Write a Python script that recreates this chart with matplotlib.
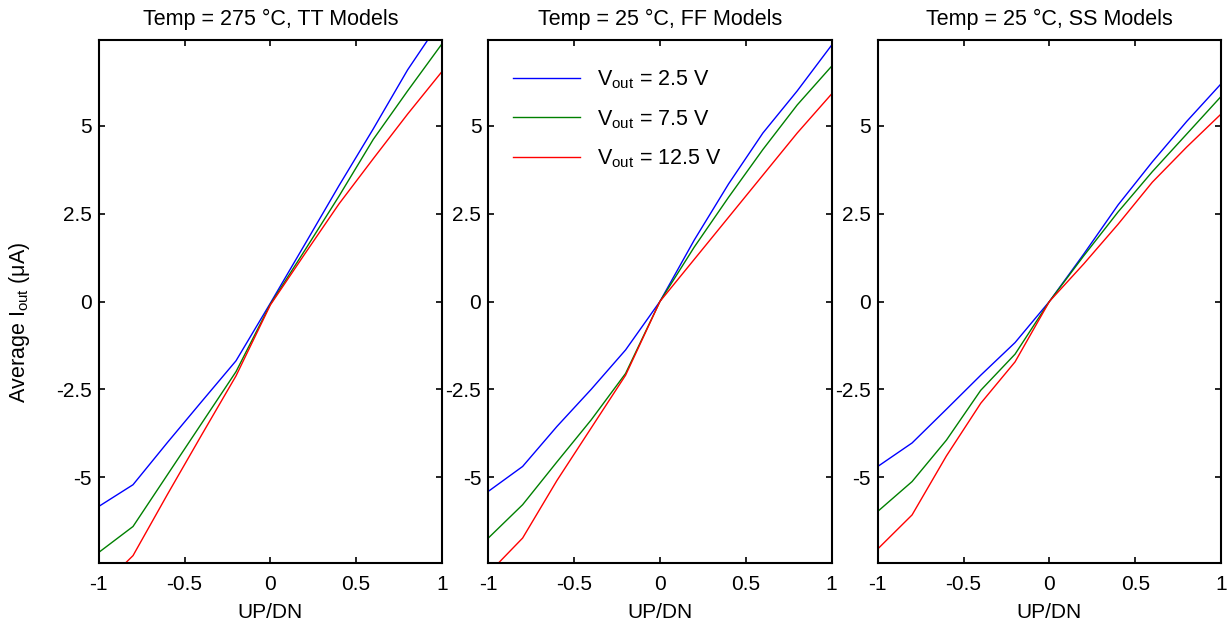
import matplotlib
matplotlib.use('Agg')
import matplotlib.pyplot as plt
from matplotlib.ticker import FormatStrFormatter

plt.rcParams['font.family'] = ['Liberation Sans', 'DejaVu Sans']
plt.rcParams['mathtext.default'] = 'regular'
plt.rcParams['axes.unicode_minus'] = False

# UP/DN control value
updn = [-1, -0.8, -0.6, -0.4, -0.2, 0, 0.2, 0.4, 0.6, 0.8, 1]

titles = ['Temp = 275 \u00b0C, TT Models',
          'Temp = 25 \u00b0C, FF Models',
          'Temp = 25 \u00b0C, SS Models']
labels = ['V$_{out}$ = 2.5 V', 'V$_{out}$ = 7.5 V', 'V$_{out}$ = 12.5 V']
colors = ['#0000ff', '#008000', '#ff0000']

# average output current (uA), one list per Vout
tt_2v5 = [-5.84, -5.22, -4.02, -2.85, -1.69, -0.05, 1.62, 3.30, 4.92, 6.60, 8.05]
tt_7v5 = [-7.15, -6.41, -4.94, -3.47, -2.00, -0.08, 1.45, 3.00, 4.62, 6.00, 7.34]
tt_12v5 = [-8.20, -7.24, -5.50, -3.80, -2.12, -0.10, 1.35, 2.78, 4.07, 5.34, 6.55]

ff_2v5 = [-5.41, -4.70, -3.56, -2.50, -1.38, 0.0, 1.75, 3.35, 4.80, 6.00, 7.30]
ff_7v5 = [-6.74, -5.79, -4.57, -3.37, -2.05, 0.0, 1.55, 2.97, 4.33, 5.60, 6.70]
ff_12v5 = [-7.75, -6.74, -5.10, -3.60, -2.10, 0.0, 1.20, 2.40, 3.60, 4.80, 5.91]

ss_2v5 = [-4.70, -4.03, -3.07, -2.10, -1.17, 0.0, 1.35, 2.75, 3.98, 5.13, 6.20]
ss_7v5 = [-5.98, -5.13, -3.95, -2.53, -1.50, 0.0, 1.30, 2.55, 3.70, 4.77, 5.84]
ss_12v5 = [-7.05, -6.08, -4.40, -2.90, -1.72, 0.0, 1.07, 2.20, 3.40, 4.40, 5.34]

panels = [[tt_2v5, tt_7v5, tt_12v5],
          [ff_2v5, ff_7v5, ff_12v5],
          [ss_2v5, ss_7v5, ss_12v5]]

fig = plt.figure(figsize=(12.29, 6.25), dpi=100)
lefts = [0.0803, 0.3973, 0.7142]

for i, curves in enumerate(panels):
    ax = fig.add_axes([lefts[i], 0.0992, 0.2793, 0.8368])
    for ys, c, lab in zip(curves, colors, labels):
        ax.plot(updn, ys, color=c, lw=1.0, label=lab)
    ax.set_xlim(-1, 1)
    ax.set_ylim(-7.45, 7.45)
    ax.set_xticks([-1, -0.5, 0, 0.5, 1])
    ax.set_yticks([-5, -2.5, 0, 2.5, 5])
    ax.xaxis.set_major_formatter(FormatStrFormatter('%g'))
    ax.yaxis.set_major_formatter(FormatStrFormatter('%g'))
    ax.tick_params(direction='in', length=4, width=1.2, top=True, right=True,
                   labelsize=15, pad=5)
    ax.tick_params(axis='x', pad=9)
    for sp in ax.spines.values():
        sp.set_linewidth(1.5)
    ax.set_title(titles[i], fontsize=15.5, pad=11)
    ax.set_xlabel('UP/DN', fontsize=15, labelpad=6)
    if i == 0:
        ax.set_ylabel('Average I$_{out}$ (\u03bcA)', fontsize=15.5)
        ax.yaxis.set_label_coords(-0.195, 0.46)
    if i == 1:
        ax.legend(loc='upper left', frameon=False, fontsize=15.5,
                  handlelength=3.1, labelspacing=0.8,
                  bbox_to_anchor=(0.028, 0.975), borderaxespad=0.3)

plt.savefig('out.png', dpi=100)
